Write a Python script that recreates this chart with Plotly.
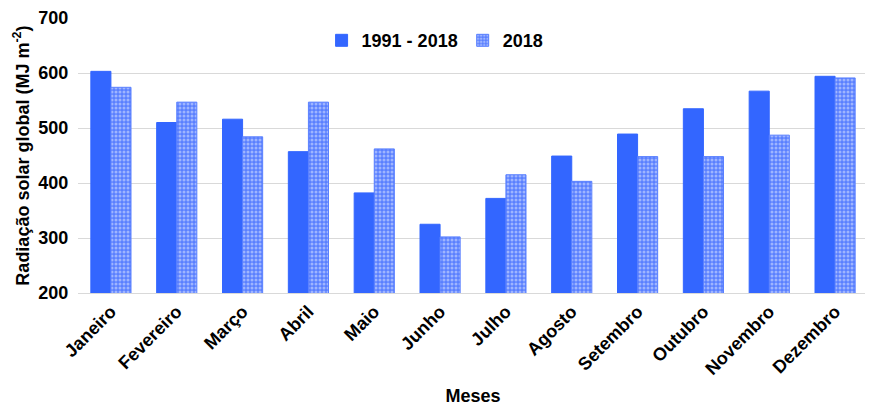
import plotly.graph_objects as go

meses = ["Janeiro", "Fevereiro", "Março", "Abril", "Maio", "Junho", "Julho",
         "Agosto", "Setembro", "Outubro", "Novembro", "Dezembro"]
serie_1991_2018 = [603, 510, 516, 457, 382, 325, 372, 449, 489, 535, 567, 594]
serie_2018 = [574, 547, 484, 547, 462, 302, 415, 403, 448, 448, 487, 591]

font_family = "Liberation Sans, Arial, sans-serif"
blue = "#3366FF"

fig = go.Figure()
fig.add_trace(go.Bar(
    x=meses, y=serie_1991_2018, name="1991 - 2018",
    marker=dict(color=blue, line=dict(color=blue, width=1)),
))
fig.add_trace(go.Bar(
    x=meses, y=serie_2018, name="2018",
    marker=dict(color="#5a80ff", line=dict(color="#5a80ff", width=1),
                pattern=dict(shape=".", fgcolor="#e4eaff", bgcolor="#5a80ff", size=4, solidity=0.45)),
))

fig.update_layout(
    width=865, height=398,
    margin=dict(l=70, r=5, t=10, b=113, autoexpand=False),
    plot_bgcolor="white", paper_bgcolor="white",
    barmode="group", bargap=0.39, bargroupgap=0.0,
    font=dict(family=font_family, size=17, color="black"),
    legend=dict(orientation="h", x=0.452, xanchor="center", y=0.985, yanchor="top",
                font=dict(size=18, family=font_family, weight="bold"),
                bgcolor="rgba(0,0,0,0)", itemwidth=30, tracegroupgap=0),
    xaxis=dict(
        tickangle=-45,
        automargin=False,
        tickfont=dict(size=18, weight="bold"),
        title=dict(text="<b>Meses</b>", font=dict(size=18), standoff=12),
        showline=True, linecolor="#d9d9d9", linewidth=1,
        ticks="",
    ),
    yaxis=dict(
        range=[200, 700], dtick=100,
        automargin=False,
        tickfont=dict(size=18, weight="bold"),
        ticklabeloverflow="allow",
        title=dict(text="<b>Radiação solar global (MJ m<sup>-2</sup>)</b>", font=dict(size=18), standoff=4),
        showgrid=True, gridcolor="#d9d9d9", gridwidth=1,
        zeroline=False,
        ticks="outside", ticklen=5, tickcolor="white",
    ),
)

fig.write_html("out.html")
